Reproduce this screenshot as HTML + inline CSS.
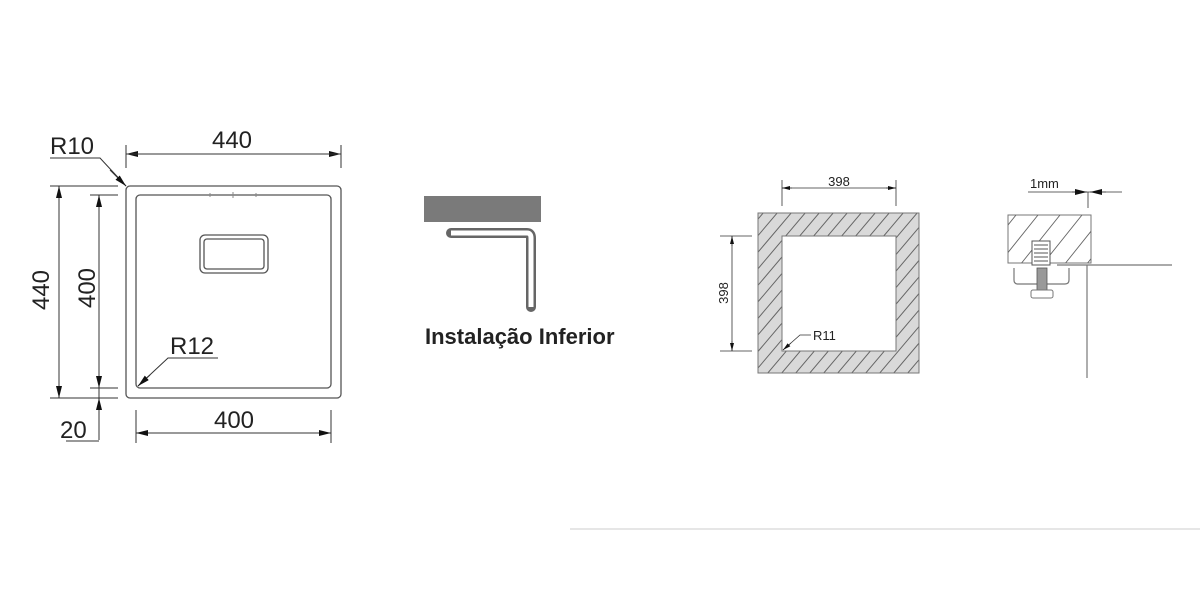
<!DOCTYPE html>
<html><head><meta charset="utf-8"><style>
html,body{margin:0;padding:0;background:#fff;}
svg{display:block;}
text{font-family:"Liberation Sans",sans-serif;}
</style></head><body>
<svg width="1200" height="600" viewBox="0 0 1200 600" xmlns="http://www.w3.org/2000/svg">
<defs>
<marker id="a" viewBox="0 0 12 6" refX="12" refY="3" markerWidth="12" markerHeight="6" orient="auto" markerUnits="userSpaceOnUse"><path d="M0,0 L12,3 L0,6 z" fill="#111"/></marker>
<marker id="s" viewBox="0 0 8 4" refX="8" refY="2" markerWidth="8" markerHeight="4" orient="auto" markerUnits="userSpaceOnUse"><path d="M0,0 L8,2 L0,4 z" fill="#111"/></marker>
<clipPath id="frame"><path clip-rule="evenodd" d="M758,213 H919 V373 H758 Z M782,236 V351 H896 V236 Z"/></clipPath>
<clipPath id="blk"><rect x="1008" y="215" width="83" height="48"/></clipPath>
</defs>

<!-- LEFT DRAWING -->
<g fill="none" stroke="#555" stroke-width="1.3">
<rect x="126" y="186" width="215" height="212" rx="4"/>
<rect x="136" y="195" width="195" height="193" rx="4"/>
<rect x="200" y="235" width="68" height="38" rx="5"/>
<rect x="204" y="239" width="60" height="30" rx="3"/>
</g>
<g stroke="#888" stroke-width="1"><line x1="210" y1="193" x2="210" y2="197"/><line x1="233" y1="192" x2="233" y2="198"/><line x1="256" y1="193" x2="256" y2="197"/></g>
<g stroke="#333" stroke-width="1" fill="none">
<line x1="126" y1="145" x2="126" y2="168"/><line x1="341" y1="145" x2="341" y2="168"/>
<line x1="140" y1="154" x2="126" y2="154" marker-end="url(#a)"/><line x1="320" y1="154" x2="341" y2="154" marker-end="url(#a)"/><line x1="126" y1="154" x2="341" y2="154"/>
<polyline points="50,158 100,158 126,186"/><line x1="110" y1="170" x2="126" y2="186" marker-end="url(#a)"/>
<line x1="50" y1="186" x2="118" y2="186"/><line x1="50" y1="398" x2="118" y2="398"/>
<line x1="59" y1="186" x2="59" y2="398"/>
<line x1="59" y1="200" x2="59" y2="186" marker-end="url(#a)"/><line x1="59" y1="384" x2="59" y2="398" marker-end="url(#a)"/>
<line x1="90" y1="195" x2="118" y2="195"/><line x1="90" y1="388" x2="118" y2="388"/>
<line x1="99" y1="195" x2="99" y2="440"/>
<line x1="99" y1="210" x2="99" y2="195" marker-end="url(#a)"/><line x1="99" y1="374" x2="99" y2="388" marker-end="url(#a)"/>
<line x1="99" y1="412" x2="99" y2="398" marker-end="url(#a)"/>
<line x1="66" y1="441" x2="99" y2="441"/>
<line x1="136" y1="410" x2="136" y2="443"/><line x1="331" y1="410" x2="331" y2="443"/>
<line x1="136" y1="433" x2="331" y2="433"/>
<line x1="150" y1="433" x2="136" y2="433" marker-end="url(#a)"/><line x1="317" y1="433" x2="331" y2="433" marker-end="url(#a)"/>
<polyline points="218,358 168,358 138,386"/><line x1="150" y1="375" x2="138" y2="386" marker-end="url(#a)"/>
</g>
<g fill="#222" font-size="24">
<text x="232" y="148" text-anchor="middle">440</text>
<text x="50" y="154">R10</text>
<text x="234" y="428" text-anchor="middle">400</text>
<text x="170" y="354">R12</text>
<text x="60" y="438">20</text>
<text transform="translate(49,290) rotate(-90)" text-anchor="middle">440</text>
<text transform="translate(95,288) rotate(-90)" text-anchor="middle">400</text>
</g>

<!-- MIDDLE -->
<rect x="424" y="196" width="117" height="26" fill="#7a7a7a"/>
<path d="M451,233 H527 Q531,233 531,238 V307" fill="none" stroke="#666" stroke-width="10" stroke-linecap="round"/>
<path d="M451,233 H527 Q531,233 531,238 V307" fill="none" stroke="#fff" stroke-width="5"/>
<text x="425" y="344" font-size="22" font-weight="bold" fill="#222">Instalação Inferior</text>

<!-- RIGHT SQUARE -->
<rect x="758" y="213" width="161" height="160" fill="#d9d9d9"/>
<g clip-path="url(#frame)" stroke="#666" stroke-width="1">
<path d="M700,420 L920,160 M714,420 L934,160 M728,420 L948,160 M742,420 L962,160 M756,420 L976,160 M770,420 L990,160 M784,420 L1004,160 M798,420 L1018,160 M812,420 L1032,160 M826,420 L1046,160 M840,420 L1060,160 M854,420 L1074,160 M868,420 L1088,160 M882,420 L1102,160 M896,420 L1116,160 M910,420 L1130,160 M686,420 L906,160 M672,420 L892,160 M658,420 L878,160 M644,420 L864,160 M630,420 L850,160 M616,420 L836,160 M602,420 L822,160 M588,420 L808,160 M574,420 L794,160 M560,420 L780,160"/>
</g>
<rect x="758" y="213" width="161" height="160" fill="none" stroke="#777" stroke-width="1"/>
<rect x="782" y="236" width="114" height="115" fill="#fff" stroke="#777" stroke-width="1"/>
<g stroke="#333" stroke-width="0.8" fill="none">
<line x1="782" y1="180" x2="782" y2="206"/><line x1="896" y1="180" x2="896" y2="206"/>
<line x1="782" y1="188" x2="896" y2="188"/>
<line x1="792" y1="188" x2="782" y2="188" marker-end="url(#s)"/><line x1="886" y1="188" x2="896" y2="188" marker-end="url(#s)"/>
<line x1="720" y1="236" x2="752" y2="236"/><line x1="720" y1="351" x2="752" y2="351"/>
<line x1="732" y1="236" x2="732" y2="351"/>
<line x1="732" y1="246" x2="732" y2="236" marker-end="url(#s)"/><line x1="732" y1="341" x2="732" y2="351" marker-end="url(#s)"/>
<polyline points="811,335 800,335 783,350"/><line x1="791" y1="343" x2="783" y2="350" marker-end="url(#s)"/>
</g>
<g fill="#222" font-size="13">
<text x="839" y="186" text-anchor="middle">398</text>
<text transform="translate(728,293) rotate(-90)" text-anchor="middle">398</text>
<text x="813" y="340">R11</text>
</g>

<!-- DETAIL -->
<rect x="1008" y="215" width="83" height="48" fill="#fff" stroke="#777" stroke-width="1"/>
<g clip-path="url(#blk)" stroke="#666" stroke-width="0.9">
<path d="M990,275 L1050,200 M1012,275 L1072,200 M1034,275 L1094,200 M1056,275 L1116,200 M1078,275 L1138,200 M968,275 L1028,200"/>
</g>
<rect x="1032" y="241" width="18" height="24" fill="#fff" stroke="#555" stroke-width="1"/>
<g stroke="#555" stroke-width="1"><path d="M1034,245 H1048 M1034,249 H1048 M1034,253 H1048 M1034,257 H1048 M1034,261 H1048"/></g>
<path d="M1014,268 V280 Q1014,284 1018,284 H1065 Q1069,284 1069,280 V268" fill="none" stroke="#777" stroke-width="1.2"/>
<rect x="1037" y="268" width="10" height="22" fill="#999" stroke="#555" stroke-width="0.8"/>
<rect x="1031" y="290" width="22" height="8" rx="2" fill="#fff" stroke="#777" stroke-width="1"/>
<g stroke="#777" stroke-width="1.2">
<line x1="1057" y1="265" x2="1172" y2="265"/>
<line x1="1087" y1="265" x2="1087" y2="378"/>
</g>
<g stroke="#333" stroke-width="0.8">
<line x1="1028" y1="192" x2="1122" y2="192"/>
<line x1="1088" y1="192" x2="1088" y2="208"/>
<line x1="1072" y1="192" x2="1087" y2="192" marker-end="url(#a)"/>
<line x1="1106" y1="192" x2="1090" y2="192" marker-end="url(#a)"/>
</g>
<text x="1030" y="188" font-size="13" fill="#222">1mm</text>

<line x1="570" y1="529" x2="1200" y2="529" stroke="#e6e6e6" stroke-width="2"/>
</svg>
</body></html>
